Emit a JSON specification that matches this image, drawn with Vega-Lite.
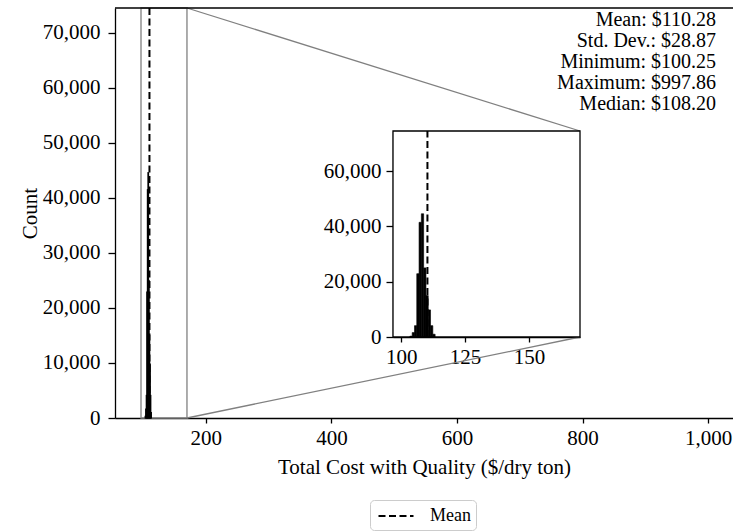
{
  "$schema": "https://vega.github.io/schema/vega-lite/v6.json",
  "width": 618,
  "height": 410,
  "autosize": "none",
  "padding": {"left": 115, "top": 8, "right": 0, "bottom": 113},
  "background": "white",
  "datasets": {
    "bins": [
      {"start": 103.41, "end": 104.31, "count": 300},
      {"start": 104.31, "end": 105.21, "count": 1600},
      {"start": 105.21, "end": 106.10, "count": 4100},
      {"start": 106.10, "end": 107.00, "count": 22900},
      {"start": 107.00, "end": 107.90, "count": 41500},
      {"start": 107.90, "end": 108.80, "count": 44600},
      {"start": 108.80, "end": 109.70, "count": 25000},
      {"start": 109.70, "end": 110.60, "count": 15000},
      {"start": 110.60, "end": 111.49, "count": 9800},
      {"start": 111.49, "end": 112.39, "count": 4100},
      {"start": 112.39, "end": 113.29, "count": 1000}
    ],
    "mean": [{"label": "Mean", "value": 110.28}],
    "connectors": [
      {"x0": 170, "y0": 74545, "x1": 795.9, "y1": 52182},
      {"x0": 170, "y0": 0, "x1": 795.9, "y1": 14727}
    ]
  },
  "title": {
    "text": ["Mean: $110.28", "Std. Dev.: $28.87", "Minimum: $100.25", "Maximum: $997.86", "Median: $108.20"],
    "orient": "top",
    "anchor": "end",
    "frame": "group",
    "align": "right",
    "baseline": "top",
    "offset": 0,
    "dx": -17,
    "dy": 107,
    "font": "Liberation Serif",
    "fontSize": 20,
    "fontWeight": "normal",
    "lineHeight": 21,
    "color": "black"
  },
  "config": {
    "font": "Liberation Serif",
    "view": {"stroke": null},
    "axis": {
      "domainColor": "black",
      "domainWidth": 1.3,
      "tickColor": "black",
      "tickWidth": 1.3,
      "tickSize": 5,
      "labelColor": "black",
      "titleColor": "black",
      "labelFont": "Liberation Serif",
      "titleFont": "Liberation Serif",
      "labelFontSize": 21,
      "titleFontSize": 21,
      "titleFontWeight": "normal",
      "grid": false,
      "labelFlush": false,
      "labelOverlap": false
    }
  },
  "layer": [
    {
      "layer": [
        {
          "data": {"values": [{}]},
          "mark": {"type": "rect", "fillOpacity": 0, "stroke": "#808080", "strokeWidth": 1.3},
          "encoding": {
            "x": {"datum": 96.8, "type": "quantitative"},
            "x2": {"datum": 170},
            "y": {"datum": 0, "type": "quantitative"},
            "y2": {"datum": 74545}
          }
        },
        {
          "data": {"name": "connectors"},
          "mark": {"type": "rule", "stroke": "#808080", "strokeWidth": 1.3},
          "encoding": {
            "x": {"field": "x0", "type": "quantitative"},
            "y": {"field": "y0", "type": "quantitative"},
            "x2": {"field": "x1"},
            "y2": {"field": "y1"}
          }
        },
        {
          "data": {"name": "bins"},
          "mark": {"type": "rect", "color": "black", "stroke": "black", "strokeWidth": 1.2},
          "encoding": {
            "x": {
              "field": "start",
              "type": "quantitative",
              "scale": {"domain": [55.4, 1039.5], "nice": false, "zero": false},
              "axis": {"values": [200, 400, 600, 800, 1000], "format": ",d", "labelPadding": 4, "titlePadding": 8, "title": "Total Cost with Quality ($/dry ton)"}
            },
            "x2": {"field": "end"},
            "y": {
              "field": "count",
              "type": "quantitative",
              "scale": {"domain": [0, 74545], "nice": false},
              "axis": {"values": [0, 10000, 20000, 30000, 40000, 50000, 60000, 70000], "format": ",d", "tickSize": 7, "labelPadding": 8, "titlePadding": 2, "title": "Count"}
            },
            "y2": {"datum": 0}
          }
        },
        {
          "data": {"name": "mean"},
          "mark": {"type": "rule", "color": "black", "strokeWidth": 2},
          "encoding": {
            "x": {"field": "value", "type": "quantitative"},
            "strokeDash": {
              "field": "label",
              "type": "nominal",
              "scale": {"domain": ["Mean"], "range": [[7, 3.5]]},
              "legend": {
                "title": null,
                "orient": "none",
                "legendX": 255,
                "legendY": 492,
                "symbolType": "M-1.75,0H1.75",
                "symbolSize": 400,
                "symbolStrokeWidth": 2,
                "symbolStrokeColor": "black",
                "symbolOffset": 10,
                "labelFont": "Liberation Serif",
                "labelFontSize": 18,
                "labelColor": "black",
                "labelOffset": 23,
                "strokeColor": "#cccccc",
                "cornerRadius": 4,
                "padding": 5,
                "fillColor": "white"
              }
            }
          }
        },
        {
          "data": {"values": [{}]},
          "mark": {"type": "rule", "color": "black", "strokeWidth": 1.3},
          "encoding": {
            "y": {"datum": 74545, "type": "quantitative"}
          }
        }
      ]
    },
    {
      "layer": [
        {
          "data": {"values": [{}]},
          "mark": {"type": "rect", "fill": "white", "stroke": "black", "strokeWidth": 1.3},
          "encoding": {
            "x": {
              "datum": 96.8,
              "type": "quantitative",
              "scale": {"domain": [96.8, 170], "range": [278, 465], "nice": false, "zero": false},
              "axis": {"orient": "bottom", "offset": -81, "values": [100, 125, 150], "title": null, "labelPadding": 4}
            },
            "x2": {"datum": 170},
            "y": {
              "datum": 0,
              "type": "quantitative",
              "scale": {"domain": [0, 74545], "range": [329, 123], "nice": false},
              "axis": {"orient": "left", "offset": -278, "values": [0, 20000, 40000, 60000], "format": ",d", "title": null, "tickSize": 7, "labelPadding": 5}
            },
            "y2": {"datum": 74545}
          }
        },
        {
          "data": {"name": "bins"},
          "mark": {"type": "rect", "color": "black", "stroke": "black", "strokeWidth": 0.6},
          "encoding": {
            "x": {"field": "start", "type": "quantitative"},
            "x2": {"field": "end"},
            "y": {"field": "count", "type": "quantitative"},
            "y2": {"datum": 0}
          }
        },
        {
          "data": {"name": "mean"},
          "mark": {"type": "rule", "color": "black", "strokeWidth": 2, "strokeDash": [7, 3.5]},
          "encoding": {
            "x": {"field": "value", "type": "quantitative"},
            "y": {"datum": 0, "type": "quantitative"},
            "y2": {"datum": 74545}
          }
        }
      ]
    }
  ],
  "resolve": {"scale": {"x": "independent", "y": "independent"}}
}
